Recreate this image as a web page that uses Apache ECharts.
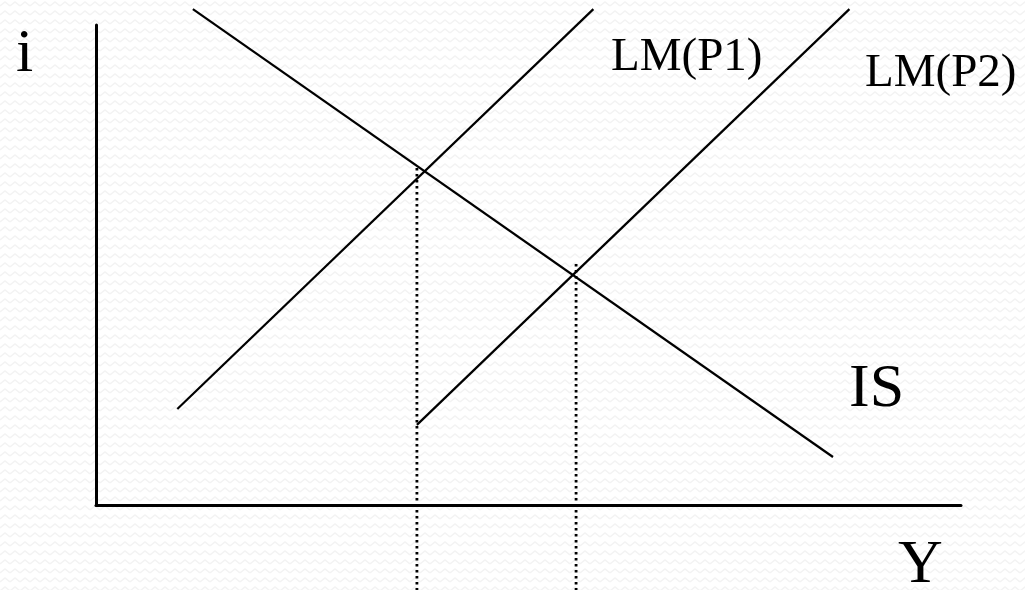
<!DOCTYPE html>
<html>
<head>
<meta charset="utf-8">
<script src="https://cdn.jsdelivr.net/npm/echarts@6/dist/echarts.min.js"></script>
<style>
html,body{margin:0;padding:0;}
#c{width:1025px;height:590px;background-color:#ffffff;
background-image:url("data:image/svg+xml;utf8,<svg xmlns='http://www.w3.org/2000/svg' width='10' height='9'><polyline points='0,6 5,2 10,6' fill='none' stroke='%23f3f3f3' stroke-width='1.6'/></svg>");}
</style>
</head>
<body>
<div id="c"></div>
<script>
// Curve end points, in chart units (x: output Y, y: interest rate i)
const isCurve   = [[11.2, 103.3], [85.2, 10.0]];
const lmP1      = [[9.4, 20.0], [57.5, 103.3]];
const lmP2      = [[37.1, 16.7], [87.1, 103.3]];
const dropLine1 = [[37.1, 70.2], [37.1, -17.7]];
const dropLine2 = [[55.5, 50.2], [55.5, -17.7]];
const labels = { i: 'i', y: 'Y', is: 'IS', lm1: 'LM(P1)', lm2: 'LM(P2)' };

const chart = echarts.init(document.getElementById('c'), null, {renderer: 'canvas'});
const serif = '"Liberation Serif", "Times New Roman", serif';
const solid = {color: '#000', width: 2.2};
const dotted = {color: '#000', width: 2.8, type: [2.5, 3.5]};
function line(data, style) {
  return {type: 'line', data: data, clip: false, symbol: 'none', silent: true,
          lineStyle: style, animation: false};
}
chart.setOption({
  backgroundColor: 'transparent',
  animation: false,
  grid: {left: 96, right: 64, top: 25, bottom: 85},
  xAxis: {type: 'value', min: 0, max: 100,
    axisLine: {lineStyle: {color: '#000', width: 3}},
    axisTick: {show: false}, axisLabel: {show: false}, splitLine: {show: false}},
  yAxis: {type: 'value', min: 0, max: 100,
    axisLine: {show: true, lineStyle: {color: '#000', width: 3}},
    axisTick: {show: false}, axisLabel: {show: false}, splitLine: {show: false}},
  series: [
    line(isCurve, solid),
    line(lmP1, solid),
    line(lmP2, solid),
    line(dropLine1, dotted),
    line(dropLine2, dotted)
  ],
  graphic: [
    {type: 'text', x: 16, y: 55, style: {text: labels.i, font: '62px ' + serif, fill: '#000', verticalAlign: 'middle'}},
    {type: 'text', x: 611, y: 57.5, style: {text: labels.lm1, font: '47px ' + serif, fill: '#000', verticalAlign: 'middle'}},
    {type: 'text', x: 865, y: 73.5, style: {text: labels.lm2, font: '47px ' + serif, fill: '#000', verticalAlign: 'middle'}},
    {type: 'text', x: 849, y: 389.5, style: {text: labels.is, font: '62px ' + serif, fill: '#000', verticalAlign: 'middle'}},
    {type: 'text', x: 898, y: 566, style: {text: labels.y, font: '62px ' + serif, fill: '#000', verticalAlign: 'middle'}}
  ]
});
</script>
</body>
</html>
